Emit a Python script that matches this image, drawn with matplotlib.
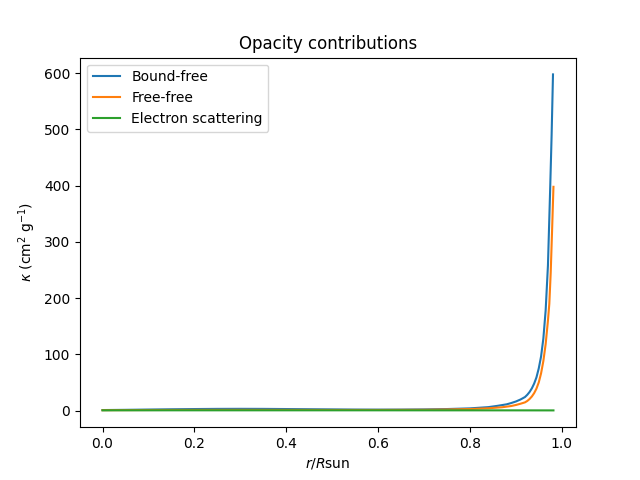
import matplotlib
matplotlib.use("Agg")
import matplotlib.pyplot as plt

# Bound-free opacity
x_bf = [0.0, 0.05, 0.1, 0.15, 0.2, 0.25, 0.3, 0.35, 0.4, 0.45, 0.5, 0.55, 0.6, 0.65,
        0.7, 0.75, 0.8, 0.84, 0.86, 0.88, 0.89, 0.9, 0.91, 0.915, 0.92, 0.925, 0.93,
        0.935, 0.94, 0.945, 0.95, 0.955, 0.96, 0.965, 0.97, 0.975, 0.978, 0.981]
k_bf = [0.8, 1.2, 1.7, 2.2, 2.6, 2.9, 3.0, 2.9, 2.6, 2.3, 2.0, 1.7, 1.6, 1.7,
        2.0, 2.6, 3.8, 6.0, 8.3, 11.0, 13.3, 16.0, 19.5, 21.7, 24.0, 28.0, 33.0,
        39.5, 48.0, 59.0, 75.0, 96.0, 128.0, 178.0, 258.0, 399.0, 490.0, 598.0]

# Free-free opacity
x_ff = [0.0, 0.1, 0.2, 0.3, 0.4, 0.5, 0.6, 0.7, 0.75, 0.8, 0.84, 0.87, 0.89, 0.9,
        0.91, 0.92, 0.925, 0.93, 0.935, 0.94, 0.945, 0.95, 0.955, 0.96, 0.965,
        0.97, 0.973, 0.976, 0.979, 0.982]
k_ff = [0.6, 0.9, 1.1, 1.2, 1.1, 1.0, 1.0, 1.3, 1.8, 2.6, 4.0, 5.8, 8.0, 9.8,
        12.0, 14.5, 17.0, 20.5, 25.0, 31.0, 39.0, 50.0, 66.0, 88.0, 118.0,
        160.0, 190.0, 245.0, 320.0, 398.0]

# Electron scattering opacity
x_es = [0.0, 0.2, 0.4, 0.6, 0.8, 0.9, 0.982]
k_es = [0.34, 0.34, 0.34, 0.33, 0.3, 0.27, 0.2]

fig, ax = plt.subplots(figsize=(6.4, 4.8), dpi=100)
ax.plot(x_bf, k_bf, label="Bound-free")
ax.plot(x_ff, k_ff, label="Free-free")
ax.plot(x_es, k_es, label="Electron scattering")
ax.set_title("Opacity contributions")
ax.set_xlabel(r"$r/R$sun")
ax.set_ylabel(r"$\kappa$ (cm$^2$ g$^{-1}$)")
ax.legend(loc="upper left")
fig.savefig("out.png")
